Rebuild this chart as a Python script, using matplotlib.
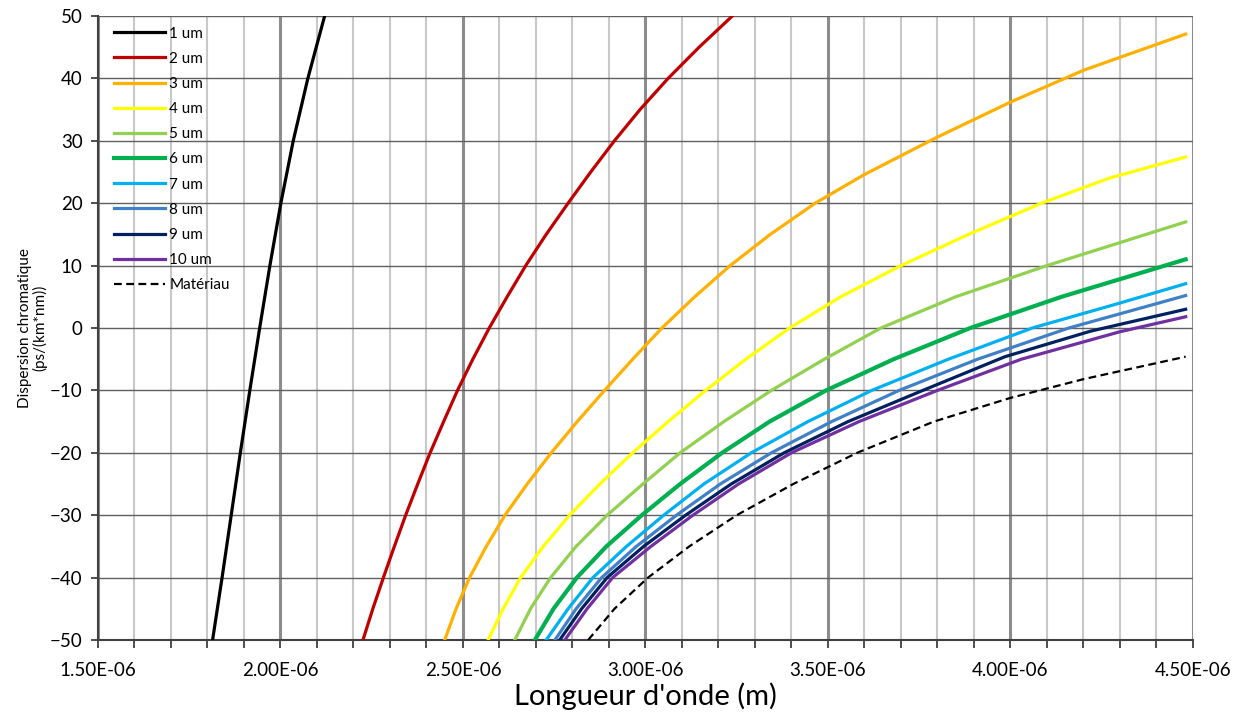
import numpy as np
import matplotlib
matplotlib.use('Agg')
import matplotlib.pyplot as plt
from matplotlib.ticker import MultipleLocator, FuncFormatter

plt.rcParams['font.family'] = ['Lato', 'DejaVu Sans']

# wavelength in um, dispersion in ps/(km*nm)
x_1um = [1.814, 1.840, 1.865, 1.890, 1.916, 1.943, 1.971, 2.001, 2.035, 2.075, 2.121]
y_1um = [-50, -40, -30, -20, -10, 0, 10, 20, 30, 40, 50]

x_2um = [2.226, 2.253, 2.282, 2.312, 2.343, 2.376, 2.410, 2.447, 2.485, 2.527, 2.572,
         2.621, 2.672, 2.728, 2.788, 2.850, 2.915, 2.985, 3.062, 3.147, 3.238]
y_2um = [-50, -45, -40, -35, -30, -25, -20, -15, -10, -5, 0,
         5, 10, 15, 20, 25, 30, 35, 40, 45, 50]

x_3um = [2.450, 2.481, 2.518, 2.564, 2.615, 2.676, 2.742, 2.813, 2.888, 2.965, 3.045,
         3.135, 3.232, 3.342, 3.465, 3.600, 3.800, 4.000, 4.200, 4.480]
y_3um = [-50, -45, -40, -35, -30, -25, -20, -15, -10, -5, 0,
         5, 10, 15, 20, 24.6, 30.6, 36.2, 41.3, 47.1]

x_4um = [2.569, 2.610, 2.658, 2.720, 2.792, 2.875, 2.965, 3.062, 3.165, 3.275, 3.395,
         3.535, 3.700, 3.885, 4.085, 4.270, 4.480]
y_4um = [-50, -45, -40, -35, -30, -25, -20, -15, -10, -5, 0,
         5, 10, 15, 20, 24, 27.4]

x_5um = [2.642, 2.685, 2.740, 2.810, 2.895, 2.993, 3.095, 3.215, 3.345, 3.490, 3.645,
         3.850, 4.100, 4.480]
y_5um = [-50, -45, -40, -35, -30, -25, -20, -15, -10, -5, 0, 5, 10, 17]

x_6um = [2.697, 2.748, 2.812, 2.893, 2.990, 3.095, 3.210, 3.340, 3.495, 3.680, 3.890,
         4.140, 4.480]
y_6um = [-50, -45, -40, -35, -30, -25, -20, -15, -10, -5, 0, 5, 11]

x_7um = [2.728, 2.788, 2.856, 2.948, 3.050, 3.160, 3.290, 3.445, 3.620, 3.830, 4.060,
         4.300, 4.480]
y_7um = [-50, -45, -40, -35, -30, -25, -20, -15, -10, -5, 0, 4, 7.1]

x_8um = [2.752, 2.810, 2.880, 2.975, 3.085, 3.205, 3.345, 3.510, 3.695, 3.910, 4.160,
         4.480]
y_8um = [-50, -45, -40, -35, -30, -25, -20, -15, -10, -5, 0, 5.2]

x_9um = [2.765, 2.825, 2.895, 2.995, 3.110, 3.235, 3.380, 3.555, 3.760, 3.985, 4.220,
         4.480]
y_9um = [-50, -45, -40, -35, -30, -25, -20, -15, -10, -4.6, -0.5, 3.0]

x_10um = [2.779, 2.840, 2.910, 3.015, 3.130, 3.255, 3.400, 3.585, 3.800, 4.030, 4.300,
          4.480]
y_10um = [-50, -45, -40, -35, -30, -25, -20, -15, -10, -5.0, -0.6, 1.8]

x_mat = [2.843, 2.915, 3.007, 3.120, 3.250, 3.405, 3.580, 3.790, 4.000, 4.200, 4.480]
y_mat = [-50, -45, -40, -35, -30, -25, -20, -15, -11.2, -8.2, -4.6]

labels = ['1 um', '2 um', '3 um', '4 um', '5 um', '6 um', '7 um', '8 um', '9 um', '10 um']
colors = ['#000000', '#C00000', '#FFB000', '#FFFF00', '#92D050', '#00B050',
          '#00B0F0', '#3F80C6', '#002060', '#7030A0']
xs = [x_1um, x_2um, x_3um, x_4um, x_5um, x_6um, x_7um, x_8um, x_9um, x_10um]
ys = [y_1um, y_2um, y_3um, y_4um, y_5um, y_6um, y_7um, y_8um, y_9um, y_10um]

fig = plt.figure(figsize=(12.45, 7.17), dpi=100)
ax = fig.add_axes([0.0787, 0.1074, 0.8795, 0.8703])

for i in range(len(labels)):
    lw = 3.0 if labels[i] == '6 um' else 2.3
    ax.plot(np.array(xs[i]) * 1e-6, ys[i], color=colors[i], lw=lw, label=labels[i],
            solid_joinstyle='round', zorder=3)
ax.plot(np.array(x_mat) * 1e-6, y_mat, color='black', lw=1.6, ls=(0, (3.5, 2)),
        label='Matériau', zorder=3)

ax.set_xlim(1.5e-6, 4.5e-6)
ax.set_ylim(-50, 50)
ax.xaxis.set_major_locator(MultipleLocator(0.5e-6))
ax.xaxis.set_minor_locator(MultipleLocator(0.1e-6))
ax.yaxis.set_major_locator(MultipleLocator(10))
ax.xaxis.set_major_formatter(FuncFormatter(lambda v, p: f"{v:.2E}"))

ax.grid(which='minor', axis='x', color='#c8c8c8', lw=1.5, zorder=0)
ax.grid(which='major', axis='x', color='#8c8c8c', lw=2.2, zorder=0)
ax.grid(which='major', axis='y', color='#606060', lw=1.0, zorder=0)

for s in ['top', 'right']:
    ax.spines[s].set_visible(False)
for s in ['left', 'bottom']:
    ax.spines[s].set_color('#404040')
    ax.spines[s].set_linewidth(1.5)

ax.tick_params(axis='x', which='both', length=6, width=1.3, color='#404040',
               labelsize=13.5, pad=10)
ax.tick_params(axis='y', which='major', length=5, width=1.3, color='#404040',
               labelsize=13.5, pad=6)

ax.set_xlabel("Longueur d'onde (m)", fontsize=21, labelpad=2)
ax.set_ylabel("Dispersion chromatique\n(ps/(km*nm))", fontsize=11, labelpad=2,
              linespacing=1.05)

leg = ax.legend(loc='upper left', bbox_to_anchor=(0.005, 1.0), frameon=False,
                fontsize=11, handlelength=3.3, handletextpad=0.3, labelspacing=0.73,
                borderaxespad=0.3)

fig.savefig('out.png', dpi=100)
